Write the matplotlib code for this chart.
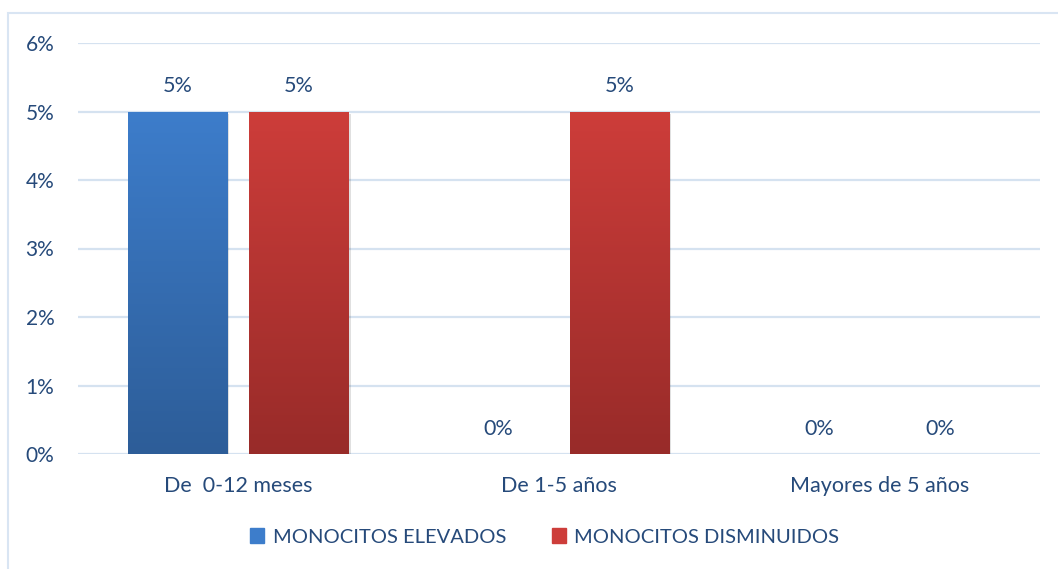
import numpy as np
import matplotlib.pyplot as plt
from matplotlib.colors import LinearSegmentedColormap
from matplotlib.patches import Rectangle
import matplotlib.patheffects as pe

plt.rcParams['font.family'] = ['Lato', 'DejaVu Sans']

categorias = ['De  0-12 meses', 'De 1-5 años', 'Mayores de 5 años']
elevados = [5, 0, 0]
disminuidos = [5, 5, 0]
series = ['MONOCITOS ELEVADOS', 'MONOCITOS DISMINUIDOS']

texto = '#264A7A'
grid_col = '#D5E2F0'
azul = ('#3D7DCB', '#2D5D98')
rojo = ('#CD3D3A', '#982B29')

fig = plt.figure(figsize=(10.58, 5.69), dpi=100)
ax = fig.add_axes([78 / 1058, 1 - 454 / 569, 962 / 1058, 411 / 569])

# chart frame
fig.add_artist(Rectangle((8 / 1058, -0.01), 1.1, 1 - 13 / 569 + 0.01,
                         transform=fig.transFigure, fill=False,
                         edgecolor='#D9E5F3', linewidth=1.5))

x = np.arange(len(categorias))
ancho = 0.309
desp = 0.189


def barras_degradado(pos, vals, cols):
    cmap = LinearSegmentedColormap.from_list('g', [cols[1], cols[0]])
    grad = np.linspace(0, 1, 256).reshape(-1, 1)
    for xi, v in zip(pos, vals):
        if v <= 0:
            continue
        b = ax.bar(xi, v, ancho, color=cols[1], zorder=3, linewidth=0)[0]
        b.set_path_effects([pe.SimplePatchShadow(offset=(1.5, -1.5), alpha=0.12,
                                                 shadow_rgbFace='black'),
                            pe.Normal()])
        im = ax.imshow(grad, cmap=cmap, origin='lower', aspect='auto',
                       extent=(xi - ancho / 2, xi + ancho / 2, 0, v), zorder=4)
        im.set_clip_path(b)


barras_degradado(x - desp, elevados, azul)
barras_degradado(x + desp, disminuidos, rojo)

for xi, v in zip(x - desp, elevados):
    ax.annotate(f'{v}%', (xi, v), xytext=(0, 18), textcoords='offset points',
                ha='center', va='center', fontsize=15.5, color=texto)
for xi, v in zip(x + desp, disminuidos):
    ax.annotate(f'{v}%', (xi, v), xytext=(0, 18), textcoords='offset points',
                ha='center', va='center', fontsize=15.5, color=texto)

ax.set_xlim(-0.5, 2.5)
ax.set_ylim(0, 6)
ax.set_yticks(range(0, 7))
ax.set_yticklabels([f'{i}%' for i in range(0, 7)])
ax.set_xticks(x)
ax.set_xticklabels(categorias)
ax.tick_params(axis='y', length=0, pad=17, labelsize=15, labelcolor=texto)
ax.tick_params(axis='x', length=0, pad=16, labelsize=15.5, labelcolor=texto)
ax.grid(axis='y', color=grid_col, linewidth=1.6, zorder=0)
ax.set_axisbelow(True)
for s in ax.spines.values():
    s.set_visible(False)

# legend
handles = [Rectangle((0, 0), 1, 1, color=azul[0]), Rectangle((0, 0), 1, 1, color=rojo[0])]
leg = fig.legend(handles, series, loc='center', bbox_to_anchor=(0.515, 1 - 537 / 569),
                 ncol=2, frameon=False, fontsize=14.5, handlelength=0.7, handleheight=0.7,
                 handletextpad=0.4, columnspacing=2.3)
for t in leg.get_texts():
    t.set_color(texto)

fig.savefig('out.png', dpi=100)
